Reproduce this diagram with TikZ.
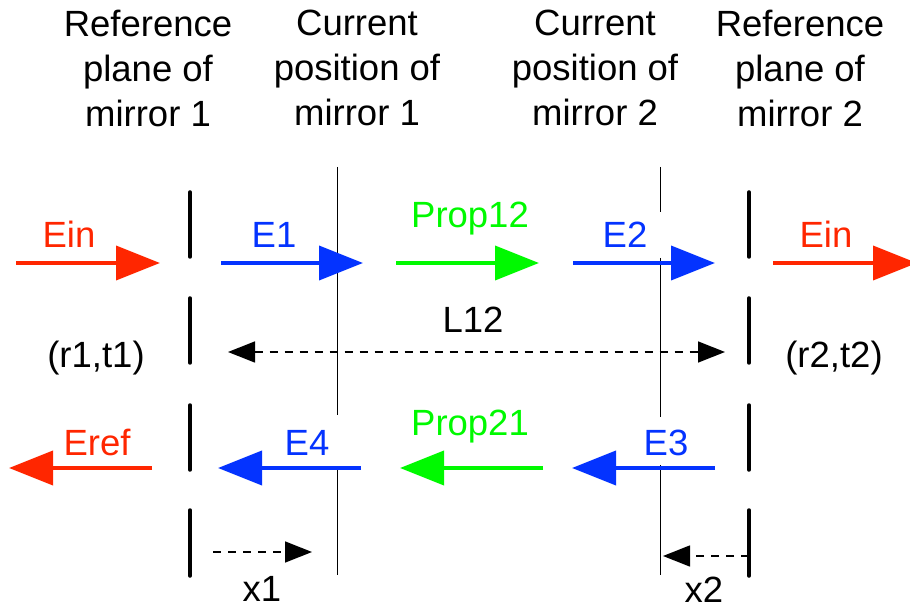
\documentclass[tikz,border=0pt]{standalone}
\usepackage{fontspec}
\setmainfont{Liberation Sans}
\usetikzlibrary{arrows.meta}
\definecolor{ered}{HTML}{FF2600}
\definecolor{eblue}{HTML}{0433FF}
\definecolor{egreen}{HTML}{00F900}
\begin{document}
\begin{tikzpicture}[x=1pt,y=-1pt,
  font=\fontsize{36.5}{45}\selectfont,
  lbl/.style={anchor=base, inner sep=0pt},
  head/.style={align=center, anchor=north, inner sep=0pt},
  beam/.style={line width=3.8pt, -{Triangle[length=44pt 0 0,width=34pt 0 0]}},
  meas/.style={line width=1.5pt, dash pattern=on 8pt off 7pt,
               -{Triangle[length=27pt 0 0,width=21pt 0 0]}},
  refplane/.style={line width=3.5pt, line cap=round},
  curplane/.style={line width=1pt}]
\useasboundingbox (0,0) rectangle (910,609);
\clip (0,0) rectangle (910,609);

% column headings
\node[head] (h1) at (148,10) {Reference\\plane of\\mirror 1};
\node[head] (h2) at (357,10) {Current\\position of\\mirror 1};
\node[head] (h3) at (595,10) {Current\\position of\\mirror 2};
\node[head] (h4) at (800,10) {Reference\\plane of\\mirror 2};

% reference planes (broken thick lines)
\foreach \a/\b in {192/257,298/363,405/470,510/576}{
  \draw[refplane] (190,\a) -- (190,\b);
  \draw[refplane] (749,\a) -- (749,\b);
}
% current mirror positions (thin lines, interrupted behind labels)
\draw[curplane] (337,167) -- (337,415) (337,466) -- (337,575);
\draw[curplane] (660,167) -- (660,212) (660,258) -- (660,417) (660,465) -- (660,575);

% forward fields
\coordinate (einA) at (16,263);  \coordinate (einB) at (160,263);
\coordinate (e1A) at (221,263);  \coordinate (e1B) at (363,263);
\coordinate (p12A) at (396,263); \coordinate (p12B) at (539,263);
\coordinate (e2A) at (573,263);  \coordinate (e2B) at (715,263);
\coordinate (eoA) at (773,263);  \coordinate (eoB) at (917,263);
\draw[beam, ered]   (einA) -- (einB);
\draw[beam, eblue]  (e1A) -- (e1B);
\draw[beam, egreen] (p12A) -- (p12B);
\draw[beam, eblue]  (e2A) -- (e2B);
\draw[beam, ered]   (eoA) -- (eoB);
\node[lbl, text=ered]   (tein)  at (69,248)  {Ein};
\node[lbl, text=eblue]  (te1)   at (274,248) {E1};
\node[lbl, text=egreen] (tp12)  at (470,228) {Prop12};
\node[lbl, text=eblue]  (te2)   at (625,248) {E2};
\node[lbl, text=ered]   (teout) at (826,248) {Ein};

% cavity length
\coordinate (lA) at (228,352); \coordinate (lB) at (725,352);
\draw[meas, {Triangle[length=27pt 0 0,width=21pt 0 0]}-{Triangle[length=27pt 0 0,width=21pt 0 0]}] (lA) -- (lB);
\node[lbl] (tl12) at (473,333) {L12};
\node[lbl] (tr1)  at (96,368)  {(r1,t1)};
\node[lbl] (tr2)  at (834,368) {(r2,t2)};

% backward fields
\coordinate (erA) at (152,468);  \coordinate (erB) at (9,468);
\coordinate (e4A) at (361,468);  \coordinate (e4B) at (218,468);
\coordinate (p21A) at (543,468); \coordinate (p21B) at (400,468);
\coordinate (e3A) at (715,468);  \coordinate (e3B) at (572,468);
\draw[beam, ered]   (erA) -- (erB);
\draw[beam, eblue]  (e4A) -- (e4B);
\draw[beam, egreen] (p21A) -- (p21B);
\draw[beam, eblue]  (e3A) -- (e3B);
\node[lbl, text=ered]   (teref) at (97,455)  {Eref};
\node[lbl, text=eblue]  (te4)   at (307,455) {E4};
\node[lbl, text=egreen] (tp21)  at (470,435) {Prop21};
\node[lbl, text=eblue]  (te3)   at (666,455) {E3};

% mirror displacements
\coordinate (x1A) at (213,552); \coordinate (x1B) at (312,552);
\coordinate (x2A) at (749,556); \coordinate (x2B) at (663,556);
\draw[meas] (x1A) -- (x1B);
\draw[meas] (x2A) -- (x2B);
\node[lbl] (tx1) at (262,601) {x1};
\node[lbl] (tx2) at (704,602) {x2};
\end{tikzpicture}
\end{document}
